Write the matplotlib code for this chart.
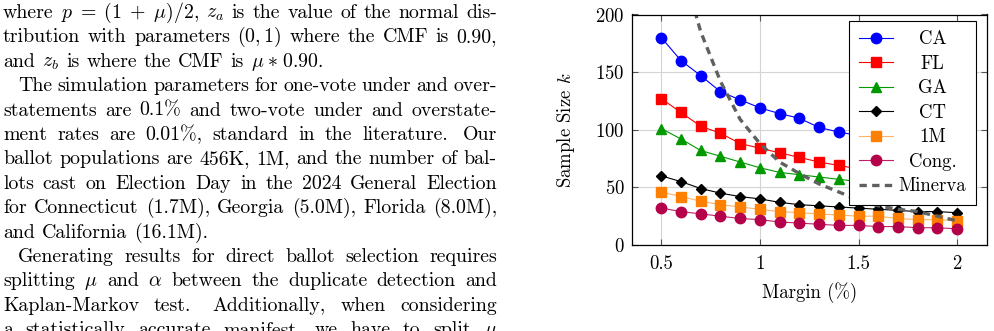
import matplotlib
matplotlib.use("Agg")
import matplotlib.pyplot as plt

plt.rcParams["font.family"] = "serif"
plt.rcParams["font.serif"] = ["cmr10"]
plt.rcParams["mathtext.fontset"] = "cm"
plt.rcParams["axes.formatter.use_mathtext"] = True

# margen (%) y tamanos de muestra
margin = [0.5, 0.6, 0.7, 0.8, 0.9, 1.0, 1.1, 1.2, 1.3, 1.4, 1.5, 1.6, 1.7, 1.8, 1.9, 2.0]
ca = [180, 160, 147, 133, 126, 119, 114, 110, 102, 98, 95, 92, 89, 86, 84, 82]
fl = [127, 115, 103, 97, 88, 84, 80, 76, 72, 69, 66, 63, 61, 59, 57, 55]
ga = [101, 92, 82, 77, 72, 67, 63, 61, 59, 57, 55, 53, 51, 50, 49, 48]
ct = [60, 55, 49, 45, 42, 40, 37, 35, 34, 33, 32, 31, 30, 29, 29, 28]
onem = [46, 42, 38, 35, 33, 31, 29, 28, 27, 26, 25, 25, 23, 22, 22, 21]
cong = [32, 29, 27, 25, 23, 22, 20, 19, 18, 17, 17, 16, 16, 15, 15, 14]
minerva = [350, 245, 185, 142, 109, 88, 72, 62, 53, 46, 39, 34, 31, 29, 25, 21]

xticks = [0.5, 1, 1.5, 2]
xticklabels = ["0.5", "1", "1.5", "2"]
yticks = [0, 50, 100, 150, 200]

# texto del articulo a la izquierda (linea, justificada, sangria)
body = [
    (r"where $p\;=\;(1\;+\;\mu)/2$, $z_a$ is the value of the normal dis-", True, False),
    (r"tribution with parameters $(0,1)$ where the CMF is 0.90,", True, False),
    (r"and $z_b$ is where the CMF is $\mu\;{\ast}\;0.90$.", False, False),
    ("The simulation parameters for one-vote under and over-", True, True),
    ("statements are 0.1% and two-vote under and overstate-", True, False),
    ("ment rates are 0.01%, standard in the literature. Our", True, False),
    ("ballot populations are 456K, 1M, and the number of bal-", True, False),
    ("lots cast on Election Day in the 2024 General Election", True, False),
    ("for Connecticut (1.7M), Georgia (5.0M), Florida (8.0M),", True, False),
    ("and California (16.1M).", False, False),
    ("Generating results for direct ballot selection requires", True, True),
    (r"splitting $\mu$ and $\alpha$ between the duplicate detection and", True, False),
    ("Kaplan-Markov test. Additionally, when considering", True, False),
    (r"a statistically accurate manifest, we have to split $\mu$", True, False),
]

W, H = 994, 331
fig = plt.figure(figsize=(W / 100, H / 100), dpi=100)
ax = fig.add_axes([631.7 / W, 1 - 245 / H, 355 / W, 230.5 / H])

ax.plot(margin, ca, color="blue", marker="o", markersize=7.5, linewidth=0.8, label="CA")
ax.plot(margin, fl, color="red", marker="s", markersize=7, linewidth=0.8, label="FL")
ax.plot(margin, ga, color=(0, 0.6, 0), marker="^", markersize=7, linewidth=0.8, label="GA")
ax.plot(margin, ct, color="black", marker="D", markersize=5, linewidth=0.8, label="CT")
ax.plot(margin, onem, color="#ffb366", marker="s", markersize=7, markerfacecolor="#ff8000",
        markeredgecolor="#ff8000", linewidth=0.8, label="1M")
ax.plot(margin, cong, color="#c0206a", marker="o", markersize=7.5, markerfacecolor="#b5004a",
        markeredgecolor="#b5004a", linewidth=0.8, label="Cong.")
ax.plot(margin, minerva, color="#606060", linestyle=(0, (2.2, 1.6)), linewidth=2.4, label="Minerva")

ax.set_xlim(0.35, 2.15)
ax.set_ylim(0, 200)
ax.set_xticks(xticks)
ax.set_xticklabels(xticklabels)
ax.set_yticks(yticks)
ax.tick_params(direction="in", length=4, width=0.8, top=True, right=True,
               color="#555555", labelsize=13.5, pad=5)
ax.tick_params(axis="x", pad=7)
ax.grid(True, color="#d4d4d4", linewidth=0.8)
ax.set_axisbelow(True)
for s in ax.spines.values():
    s.set_linewidth(0.9)

ax.set_xlabel("Margin (%)", fontsize=13.5)
ax.set_ylabel(r"Sample Size $k$", fontsize=13.5)
ax.xaxis.set_label_coords(0.5, -0.16)
ax.yaxis.set_label_coords(-0.155, 0.5)

leg = ax.legend(loc="upper right", bbox_to_anchor=(975.5 / W, 1 - 21 / H), bbox_transform=fig.transFigure,
                borderaxespad=0, fontsize=13.5, frameon=True, fancybox=False, edgecolor="black",
                framealpha=1, handlelength=1.8, handletextpad=0.32, labelspacing=0.35, borderpad=0.5)
leg.get_frame().set_linewidth(0.8)

# texto a la izquierda
texts = []
for i, (line, just, indent) in enumerate(body):
    words = line.split(" ")
    objs = [fig.text(0, 0, w, fontsize=14.3, va="baseline", ha="left") for w in words]
    texts.append((objs, just, indent, 18 + 24.4 * i))

fig.canvas.draw()
r = fig.canvas.get_renderer()
x0, x1 = 3, 497
inv = fig.transFigure.inverted()
for objs, just, indent, yb in texts:
    widths = [o.get_window_extent(r).width for o in objs]
    start = x0 + (15 if indent else 0)
    weights = [1.5 if o.get_text().endswith(".") else 1.0 for o in objs[:-1]]
    if just and len(objs) > 1:
        unit = (x1 - start - sum(widths)) / sum(weights)
    else:
        unit = 7
    x = start
    for k, o in enumerate(objs):
        o.set_position(inv.transform((x, H - yb)))
        if k < len(weights):
            x += widths[k] + unit * weights[k]

# centrar los textos de la leyenda
ltexts = leg.get_texts()
exts = [t.get_window_extent(r) for t in ltexts]
left = min(e.x0 for e in exts)
right = max(e.x1 for e in exts)
for t, e in zip(ltexts, exts):
    t.set_visible(False)
    pos = inv.transform(((left + right) / 2, e.y0))
    fig.text(pos[0], pos[1], t.get_text(), fontsize=13.5, ha="center", va="bottom", zorder=10)

fig.savefig("out.png", dpi=100)
